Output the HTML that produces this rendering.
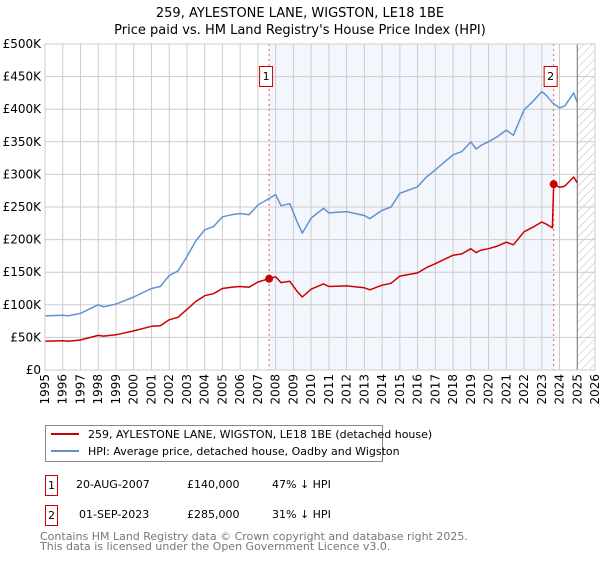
<!DOCTYPE html>
<html><head><meta charset="utf-8">
<style>
body{margin:0;background:#fff;font-family:"DejaVu Sans","Liberation Sans",sans-serif;}
svg text{font-family:"DejaVu Sans","Liberation Sans",sans-serif;}
</style></head>
<body>
<svg width="600" height="560" xmlns="http://www.w3.org/2000/svg">
<defs>
<pattern id="hatch" width="6" height="6" patternUnits="userSpaceOnUse" patternTransform="rotate(45)">
<line x1="0" y1="0" x2="0" y2="6" stroke="#bbb" stroke-width="1"/>
</pattern>
</defs>
<text x="300" y="17" text-anchor="middle" font-size="13" fill="#000">259, AYLESTONE LANE, WIGSTON, LE18 1BE</text>
<text x="300" y="34" text-anchor="middle" font-size="13" fill="#000">Price paid vs. HM Land Registry's House Price Index (HPI)</text>
<g id="plot"></g>
<g>
<rect x="45.5" y="425.5" width="337" height="36" fill="#fff" stroke="#888"/>
<line x1="51" y1="434" x2="79" y2="434" stroke="#cc0000" stroke-width="2"/>
<text x="88" y="438" font-size="11">259, AYLESTONE LANE, WIGSTON, LE18 1BE (detached house)</text>
<line x1="51" y1="451" x2="79" y2="451" stroke="#6092d0" stroke-width="2"/>
<text x="88" y="455" font-size="11">HPI: Average price, detached house, Oadby and Wigston</text>
</g>
<g font-size="11">
<rect x="45.5" y="475.5" width="12" height="20" fill="#fff" stroke="#cc0000"/>
<text x="51.5" y="489" text-anchor="middle">1</text>
<text x="76" y="488">20-AUG-2007</text>
<text x="187" y="488">£140,000</text>
<text x="272" y="488">47% ↓ HPI</text>
<rect x="45.5" y="505.5" width="12" height="20" fill="#fff" stroke="#cc0000"/>
<text x="51.5" y="519" text-anchor="middle">2</text>
<text x="79" y="518">01-SEP-2023</text>
<text x="187" y="518">£285,000</text>
<text x="272" y="518">31% ↓ HPI</text>
</g>
<text x="40" y="540" font-size="11" fill="#777">Contains HM Land Registry data © Crown copyright and database right 2025.</text>
<text x="40" y="550" font-size="11" fill="#777">This data is licensed under the Open Government Licence v3.0.</text>
</svg>
<script>
const hpiYears=[1995,1996,1996.3,1997,1998,1998.3,1999,2000,2001,2001.5,2002,2002.5,2003,2003.5,2004,2004.5,2005,2005.5,2006,2006.5,2007,2007.63,2008,2008.3,2008.8,2009.2,2009.5,2010,2010.7,2011,2012,2013,2013.3,2014,2014.5,2015,2016,2016.5,2017,2018,2018.5,2019,2019.3,2019.6,2020,2020.5,2021,2021.4,2022,2022.5,2023,2023.3,2023.6,2024,2024.3,2024.8,2025];
const hpiValues=[83,84,83,87,100,97,101,112,125,128,145,152,174,198,215,220,235,238,240,238,253,263,269,252,255,228,210,233,248,241,243,237,232,245,250,271,281,296,307,330,335,350,339,345,350,358,368,360,399,412,427,420,410,402,405,425,410];
const priceYears=[1995,1996,1996.3,1997,1998,1998.3,1999,2000,2001,2001.5,2002,2002.5,2003,2003.5,2004,2004.5,2005,2005.5,2006,2006.5,2007,2007.63,2008,2008.3,2008.8,2009.2,2009.5,2010,2010.7,2011,2012,2013,2013.3,2014,2014.5,2015,2016,2016.5,2017,2018,2018.5,2019,2019.3,2019.6,2020,2020.5,2021,2021.4,2022,2022.5,2023,2023.3,2023.6,2023.67,2024,2024.3,2024.8,2025];
const priceValues=[44,45,44,46,53,52,54,60,67,68,77,81,93,105,114,117,125,127,128,127,135,140,143,134,136,121,112,124,132,128,129,126,123,130,133,144,149,157,163,176,178,186,180,184,186,190,196,192,212,219,227,223,218,285,280,282,296,287];
const saleYears=[2007.63,2023.67];
const saleValues=[140,285];
const saleLabels=["1","2"];
const yTicks=[0,50,100,150,200,250,300,350,400,450,500];
const yTickLabels=["£0","£50K","£100K","£150K","£200K","£250K","£300K","£350K","£400K","£450K","£500K"];
const xTicks=[1995,1996,1997,1998,1999,2000,2001,2002,2003,2004,2005,2006,2007,2008,2009,2010,2011,2012,2013,2014,2015,2016,2017,2018,2019,2020,2021,2022,2023,2024,2025,2026];

const X0=45,X1=595,Y0=370,Y1=44;
const xs=y=>X0+(y-1995)/(2026-1995)*(X1-X0);
const ys=v=>Y0-v/500*(Y0-Y1);
const NS="http://www.w3.org/2000/svg";
const g=document.getElementById('plot');
function mk(t,a){const e=document.createElementNS(NS,t);for(const k in a)e.setAttribute(k,a[k]);g.appendChild(e);return e;}

let r=mk('rect',{x:xs(saleYears[0]),y:Y1,width:xs(saleYears[1])-xs(saleYears[0]),height:Y0-Y1,fill:'#eef3fc',opacity:0.7});


let h=mk('rect',{x:xs(2025),y:Y1,width:X1-xs(2025),height:Y0-Y1,fill:'url(#hatch)'});



yTicks.forEach((t,i)=>{
 let l=mk('line',{x1:X0,x2:X1,y1:ys(t),y2:ys(t),stroke:'#ccc','stroke-width':1});
 
 
 let tx=mk('text',{x:X0-4,y:ys(t)+4,'text-anchor':'end','font-size':12,fill:'#000'});
 tx.textContent=yTickLabels[i];
 
 
});
xTicks.forEach(t=>{
 let l=mk('line',{x1:xs(t),x2:xs(t),y1:Y1,y2:Y0,stroke:'#ccc','stroke-width':1});
 
 
 let tx=mk('text',{x:0,y:0,'text-anchor':'end','font-size':12,fill:'#000',transform:`translate(${xs(t)+4},374) rotate(-90)`});
 tx.textContent=t;
 
 
});
let bl=mk('line',{x1:xs(2025),x2:xs(2025),y1:Y1,y2:Y0,stroke:'#777','stroke-width':1});



saleYears.forEach((s,i)=>{
 let l=mk('line',{x1:xs(s),x2:xs(s),y1:Y1,y2:Y0,stroke:'#e06060','stroke-width':1,'stroke-dasharray':'2,3'});
 
 
});

function line(xa,va,color,name){
 const d=xa.map((x,i)=>(i?'L':'M')+xs(x).toFixed(1)+','+ys(va[i]).toFixed(1)).join('');
 let p=mk('path',{d:d,fill:'none',stroke:color,'stroke-width':1.5,'stroke-linejoin':'round'});
 
 
}
line(hpiYears,hpiValues,'#6092d0','hpi-line');
line(priceYears,priceValues,'#cc0000','price-line');

saleYears.forEach((s,i)=>{
 let c=mk('circle',{cx:xs(s),cy:ys(saleValues[i]),r:4,fill:'#cc0000'});
 
 
 let b=mk('rect',{x:xs(s)-9.5,y:66.5,width:13,height:20,fill:'#fff',stroke:'#cc0000'});
 
 
 let t=mk('text',{x:xs(s)-3,y:80,'text-anchor':'middle','font-size':11});
 t.textContent=saleLabels[i];
 
 
});
let ax=mk('rect',{x:X0,y:Y1,width:X1-X0,height:Y0-Y1,fill:'none',stroke:'#ccc'});


</script>
</body></html>
